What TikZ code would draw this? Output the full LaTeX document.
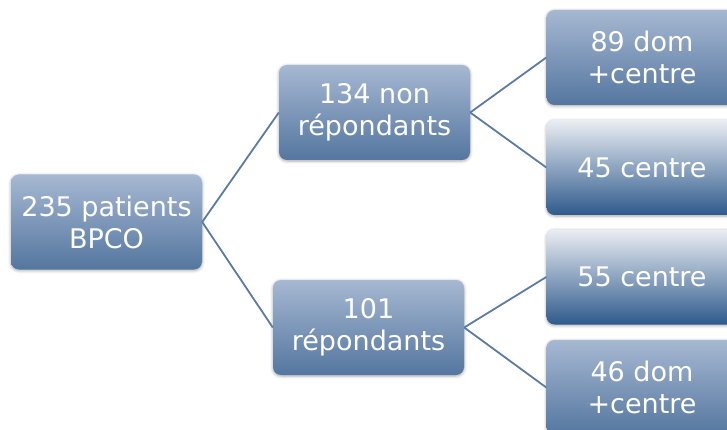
\documentclass[tikz,border=0pt]{standalone}
\usepackage{fontspec}
\setmainfont{DejaVu Sans}
\usetikzlibrary{shadows.blur}
\definecolor{boxtop}{HTML}{A6B8D2}
\definecolor{boxbot}{HTML}{54769F}
\definecolor{ltop}{HTML}{EBEEF3}
\definecolor{lbot}{HTML}{2E5A8C}
\definecolor{linkc}{HTML}{5B7BA3}
\tikzset{
  box/.style={rectangle, rounded corners=8pt, minimum width=191pt, minimum height=95pt,
    top color=boxtop, bottom color=boxbot, draw=none, text=white, align=center,
    font=\fontsize{27}{32}\selectfont, inner sep=0pt,
    blur shadow={shadow xshift=0pt, shadow yshift=-1pt, shadow blur radius=3pt, shadow opacity=35}},
  lbox/.style={box, top color=ltop, bottom color=lbot},
  link/.style={draw=linkc, line width=1.8pt}
}
\begin{document}
\begin{tikzpicture}[x=1pt,y=-1pt]
\useasboundingbox (0,0) rectangle (727,430);
\clip (0,0) rectangle (727,430);
\node[box] (root) at (106.5,222) {235 patients\\BPCO};
\node[box] (nr) at (374.5,112.5) {134 non\\répondants};
\node[box] (r) at (368.5,327.5) {101\\répondants};
\node[box] (a) at (642,57.5) {89 dom\\+centre};
\node[lbox] (b) at (642,167.5) {45 centre};
\node[lbox] (c) at (642,277) {55 centre};
\node[box] (d) at (642,387.5) {46 dom\\+centre};
\begin{scope}[on background layer/.style={}]
\end{scope}
\draw[link] (root.east) -- (nr.west);
\draw[link] (root.east) -- (r.west);
\draw[link] (nr.east) -- (a.west);
\draw[link] (nr.east) -- (b.west);
\draw[link] (r.east) -- (c.west);
\draw[link] (r.east) -- (d.west);
\end{tikzpicture}
\end{document}
